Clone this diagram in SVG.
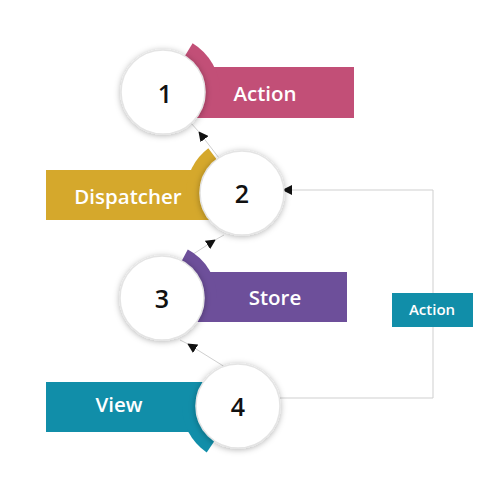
<svg xmlns="http://www.w3.org/2000/svg" width="500" height="500" viewBox="0 0 500 500">
<defs>
<filter id="sh" x="-30%" y="-30%" width="160%" height="160%">
<feDropShadow dx="0" dy="1" stdDeviation="3" flood-color="#000" flood-opacity="0.3"/>
</filter>
<marker id="ah" markerWidth="10" markerHeight="10" refX="9" refY="5" orient="auto" markerUnits="userSpaceOnUse">
<path d="M0,0 L10,5 L0,10 Z" fill="#111"/>
</marker>
<style>
.lbl{font-family:"Open Sans","Liberation Sans",sans-serif;font-weight:600;font-size:20.5px;fill:#fff;text-anchor:middle;dominant-baseline:central}
.num{font-family:"Open Sans","Liberation Sans",sans-serif;font-weight:600;font-size:25px;fill:#111;text-anchor:middle;dominant-baseline:central}
.circ{fill:#fff;stroke:#e4e4e4;stroke-width:1.5;filter:url(#sh)}
.con{fill:none;stroke:#cfcfcf;stroke-width:1}
</style>
</defs>
<rect width="500" height="500" fill="#fff"/>
<g id="connectors">
<path class="con" d="M219,158 L199,132"  marker-end="url(#ah)"/>
<path class="con" d="M199,132 L190,122"/>
<path class="con" d="M184,260 L215,240" marker-end="url(#ah)"/>
<path class="con" d="M215,240 L224,235"/>
<path class="con" d="M225,367 L188,344" marker-end="url(#ah)"/>
<path class="con" d="M188,344 L180,340"/>
<path class="con" d="M280,398 L433,398 L433,190 L283,190" marker-end="url(#ah)"/>
</g>
<g id="node1">
<rect x="196" y="67" width="158" height="51" fill="#c24f77"/>
<path d="M163,92 L192.6,43.2 A57,57 0 0,1 220,92 Z" fill="#c24f77"/>
<circle class="circ" cx="163" cy="92" r="42"/>
<text class="num" x="165" y="93">1</text>
<text class="lbl" x="265" y="93">Action</text>
</g>
<g id="node2">
<rect x="46" y="170" width="200" height="50" fill="#d5a82c"/>
<path d="M242,193 L186,193 A56,56 0 0,1 208.3,148.3 Z" fill="#d5a82c"/>
<circle class="circ" cx="242" cy="193" r="42"/>
<text class="num" x="242" y="193">2</text>
<text class="lbl" x="128" y="196">Dispatcher</text>
</g>
<g id="node3">
<rect x="196" y="272" width="151" height="50" fill="#6d4f9a"/>
<path d="M162,298 L187.8,249.4 A55,55 0 0,1 217,298 Z" fill="#6d4f9a"/>
<circle class="circ" cx="162" cy="298" r="42"/>
<text class="num" x="162" y="298">3</text>
<text class="lbl" x="275" y="297">Store</text>
</g>
<g id="node4">
<rect x="46" y="382" width="195" height="50" fill="#118ea9"/>
<path d="M238,406 L206.7,452.4 A56,56 0 0,1 182,406 Z" fill="#118ea9"/>
<circle class="circ" cx="238" cy="406" r="42"/>
<text class="num" x="238" y="406">4</text>
<text class="lbl" x="119" y="404">View</text>
</g>
<g id="action-label">
<rect x="392" y="293" width="81" height="34" fill="#118ea9"/>
<text class="lbl" x="432" y="309" style="font-size:15px">Action</text>
</g>
</svg>
